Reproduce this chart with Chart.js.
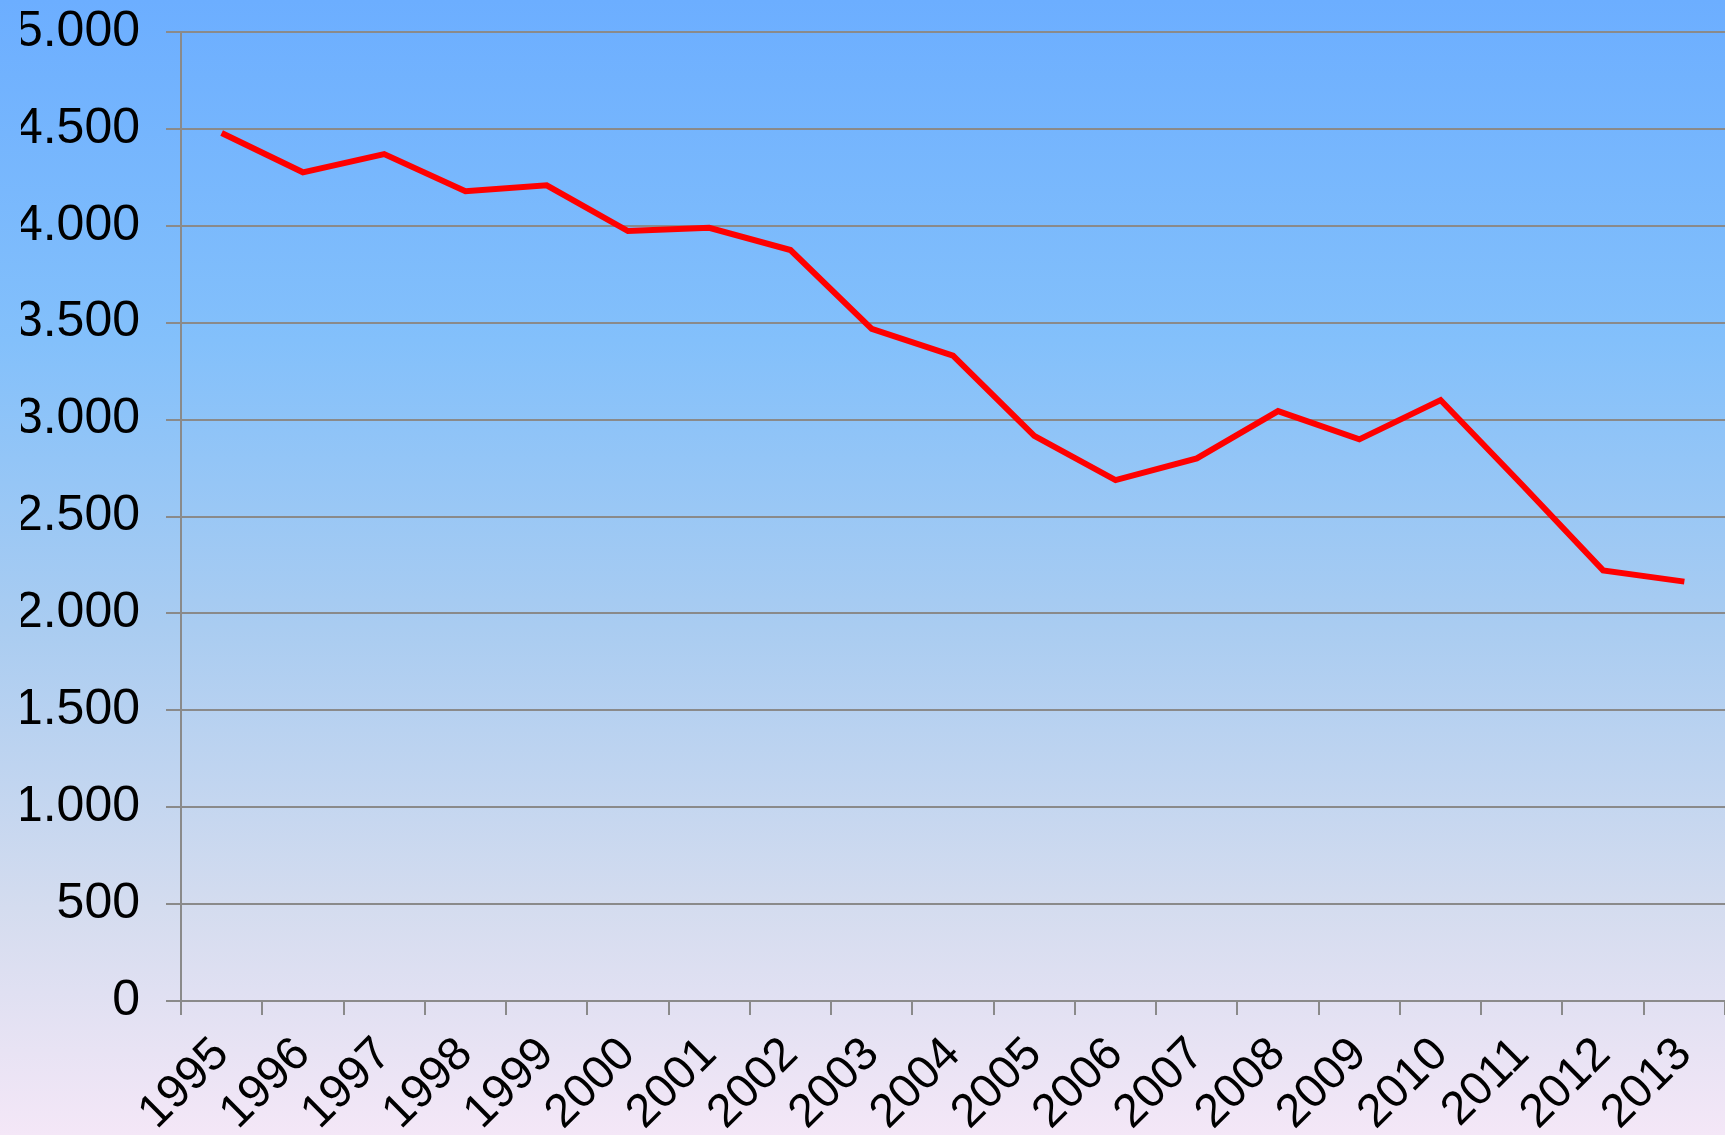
<!DOCTYPE html>
<html>
<head>
<meta charset="utf-8">
<script src="https://cdn.jsdelivr.net/npm/chart.js@4"></script>
<style>
  html, body { margin: 0; padding: 0; }
  body {
    width: 1725px;
    height: 1135px;
    overflow: hidden;
    background: linear-gradient(to bottom, #6caeff 0%, #83c0fb 30%, #a9ccf1 55%, #d4dcef 80%, #f4e7f7 100%);
  }
  #wrap { position: relative; width: 1725px; height: 1135px; }
</style>
</head>
<body>
<div id="wrap"><canvas id="chart"></canvas></div>
<script>
// years on the x axis
const years = ["1995", "1996", "1997", "1998", "1999", "2000", "2001", "2002", "2003", "2004",
  "2005", "2006", "2007", "2008", "2009", "2010", "2011", "2012", "2013"];

// values
const values = [4479, 4276, 4370, 4178, 4209, 3973, 3990, 3875, 3468, 3330,
  2916, 2688, 2800, 3044, 2898, 3101, 2665, 2222, 2164];

// y axis range
const y_min = 0;
const y_max = 5000;
const y_step = 500;

const font_family = "'Liberation Sans', Arial, sans-serif";
const grid_color = "#8a8a8a";

// german style thousands separator: 5.000
function fmt(v) {
  return v.toLocaleString("de-DE");
}

const config = {
  type: "line",
  data: {
    labels: years,
    datasets: [{
      data: values,
      borderColor: "#ff0000",
      borderWidth: 6,
      pointRadius: 0,
      tension: 0,
      fill: false
    }]
  },
  options: {
    responsive: true,
    maintainAspectRatio: false,
    animation: false,
    layout: { padding: { left: 21, top: 0, right: 0, bottom: 0 } },
    plugins: {
      legend: { display: false },
      tooltip: { enabled: false },
      title: { display: false }
    },
    scales: {
      x: {
        type: "category",
        offset: true,
        grid: {
          offset: true,
          drawOnChartArea: false,
          drawTicks: true,
          tickLength: 14,
          color: grid_color,
          lineWidth: 2
        },
        border: { display: true, color: grid_color, width: 2 },
        ticks: {
          color: "#000",
          font: { family: font_family, size: 47 },
          minRotation: 45,
          maxRotation: 45,
          autoSkip: false,
          padding: 12
        },
        afterFit: function(scale) {
          // plot runs right up to the edge like the original
          scale.height = 134;
          scale.paddingLeft = 0;
          scale.paddingRight = 0;
        }
      },
      y: {
        min: y_min,
        max: y_max,
        grid: {
          color: grid_color,
          lineWidth: 2,
          tickLength: 15,
          drawTicks: true
        },
        border: { display: true, color: grid_color, width: 2 },
        ticks: {
          stepSize: y_step,
          color: "#000",
          font: { family: font_family, size: 50 },
          padding: 26,
          callback: (v) => fmt(v)
        },
        afterFit: function(scale) {
          // the tick padding would push the plot down, so set it by hand
          scale.width = 160;
          scale.paddingTop = 32;
          scale.paddingBottom = 0;
        }
      }
    }
  }
};

new Chart(document.getElementById("chart").getContext("2d"), config);
</script>
</body>
</html>
